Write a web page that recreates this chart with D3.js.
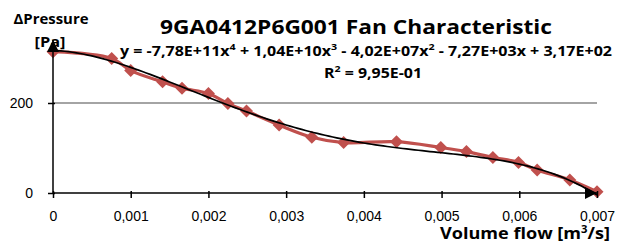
<!DOCTYPE html>
<html lang="en">
<head>
<meta charset="UTF-8">
<title>9GA0412P6G001 Fan Characteristic</title>
<script src="https://cdnjs.cloudflare.com/ajax/libs/d3/7.8.5/d3.min.js"></script>
<style>
    body { margin: 0; background: #fff; }
    svg { display: block; font-family: Lato, 'Open Sans', sans-serif; }
    .tick text { font-size: 14px; fill: #000; }
    .bold { font-family: 'Open Sans', sans-serif; font-weight: bold; }
</style>
</head>
<body>
<div id="chart"></div>
<script>
// measured points (volume flow m3/s, delta pressure Pa)
const flow = [0, 0.000755, 0.001, 0.00141, 0.00166, 0.002, 0.00225, 0.00249, 0.00291, 0.00333,
              0.00374, 0.00442, 0.00499, 0.00532, 0.00566, 0.00599, 0.00623, 0.00665, 0.007];
const pressure = [314, 299, 272, 247, 233, 221, 199, 182, 151, 124,
                  112, 114, 101, 92, 79, 68, 51, 29, 3];
// polynomial trend line coefficients, c0 + c1*x + ... + c4*x^4
const trendCoef = [317, -7270, -4.02e7, 1.04e10, -7.78e11];
const xTicks = [0, 0.001, 0.002, 0.003, 0.004, 0.005, 0.006, 0.007];
const xTickLabels = ["0", "0,001", "0,002", "0,003", "0,004", "0,005", "0,006", "0,007"];
const yTicks = [0, 200];

const W = 624, H = 246;
const svg = d3.select("#chart").append("svg").attr("width", W).attr("height", H);

const x = d3.scaleLinear().domain([0, 0.007]).range([53, 597]);
const y = d3.scaleLinear().domain([0, 320]).range([193, 49]);

const defs = svg.append("defs");
defs.append("marker")
    .attr("id", "arrow")
    .attr("viewBox", "0 0 10 10")
    .attr("refX", 10).attr("refY", 5)
    .attr("markerWidth", 17).attr("markerHeight", 12)
    .attr("markerUnits", "userSpaceOnUse")
    .attr("orient", "auto")
    .append("path").attr("d", "M0,0L10,5L0,10Z").attr("fill", "#000");

// gridline at 200
svg.append("g").selectAll("line")
    .data(yTicks.filter(d => d > 0))
    .join("line")
    .attr("x1", x(0)).attr("x2", x(0.007))
    .attr("y1", d => y(d)).attr("y2", d => y(d))
    .attr("stroke", "#868686").attr("stroke-width", 1.3);

// measured series
const red = "#C0504D";
const pts = flow.map((f, i) => [f, pressure[i]]);
svg.append("path")
    .datum(pts)
    .attr("fill", "none").attr("stroke", red).attr("stroke-width", 3.2)
    .attr("stroke-linejoin", "round")
    .attr("d", d3.line().x(d => x(d[0])).y(d => y(d[1])).curve(d3.curveCatmullRom.alpha(0.5)));
svg.append("g").selectAll("path")
    .data(pts)
    .join("path")
    .attr("transform", d => `translate(${x(d[0])},${y(d[1])})`)
    .attr("d", "M0,-6.5L6.5,0L0,6.5L-6.5,0Z")
    .attr("fill", red);

// trend line
const poly = v => trendCoef.reduce((s, c, k) => s + c * Math.pow(v, k), 0);
const tx = x.ticks(140);
svg.append("path")
    .datum(tx.map(v => [v, poly(v)]))
    .attr("fill", "none").attr("stroke", "#000").attr("stroke-width", 1.7)
    .attr("d", d3.line().x(d => x(d[0])).y(d => y(d[1])));

// y axis
const yAxis = svg.append("g")
    .attr("transform", `translate(${x(0)},0)`)
    .call(d3.axisLeft(y).tickValues(yTicks).tickSize(5).tickPadding(15).tickFormat(d3.format("d")));
yAxis.select(".domain").remove();
yAxis.selectAll(".tick line").attr("stroke-width", 1.5).attr("x2", -5).attr("x1", 2);
svg.append("line")
    .attr("x1", x(0)).attr("x2", x(0))
    .attr("y1", y(0)).attr("y2", y(340))
    .attr("stroke", "#000").attr("stroke-width", 1.5)
    .attr("marker-end", "url(#arrow)");

// x axis
const xAxis = svg.append("g")
    .attr("transform", `translate(0,${y(0)})`)
    .call(d3.axisBottom(x).tickValues(xTicks).tickSize(5).tickPadding(13)
        .tickFormat((d, i) => xTickLabels[i]));
xAxis.select(".domain").remove();
xAxis.selectAll(".tick line").attr("stroke-width", 1.5).attr("y1", -2);
svg.append("line")
    .attr("x1", x(0)).attr("x2", x(0.007))
    .attr("y1", y(0)).attr("y2", y(0))
    .attr("stroke", "#000").attr("stroke-width", 1.5)
    .attr("marker-end", "url(#arrow)");

// texts
svg.append("text").attr("class", "bold")
    .attr("x", 356).attr("y", 34)
    .attr("text-anchor", "middle")
    .attr("font-size", 20)
    .attr("textLength", 392).attr("lengthAdjust", "spacingAndGlyphs")
    .text("9GA0412P6G001 Fan Characteristic");

svg.append("text").attr("class", "bold")
    .attr("x", 51).attr("y", 24)
    .attr("text-anchor", "middle")
    .attr("font-size", 14)
    .attr("textLength", 75).attr("lengthAdjust", "spacingAndGlyphs")
    .text("ΔPressure");
svg.append("text").attr("class", "bold")
    .attr("x", 50).attr("y", 47)
    .attr("text-anchor", "middle")
    .attr("font-size", 14)
    .attr("textLength", 31).attr("lengthAdjust", "spacingAndGlyphs")
    .text("[Pa]");

// text with superscripts: list of [normal, sup] pairs
function richText(sel, parts, supSize) {
    let raised = false;
    parts.forEach(([t, s]) => {
        const n = sel.append("tspan").text(t);
        if (raised) { n.attr("dy", 6); raised = false; }
        if (s) { sel.append("tspan").attr("font-size", supSize || 9).attr("dy", -6).text(s); raised = true; }
    });
}

const eq = svg.append("text").attr("class", "bold")
    .attr("x", 120).attr("y", 56)
    .attr("font-size", 13.5)
    .attr("textLength", 492).attr("lengthAdjust", "spacingAndGlyphs");
richText(eq, [["y = -7,78E+11x", "4"], [" + 1,04E+10x", "3"], [" - 4,02E+07x", "2"], [" - 7,27E+03x + 3,17E+02", null]]);

const r2 = svg.append("text").attr("class", "bold")
    .attr("x", 324).attr("y", 78)
    .attr("font-size", 13.5)
    .attr("textLength", 98).attr("lengthAdjust", "spacingAndGlyphs");
richText(r2, [["R", "2"], [" = 9,95E-01", null]]);

const xt = svg.append("text").attr("class", "bold")
    .attr("x", 610).attr("y", 239)
    .attr("font-size", 16)
    .attr("text-anchor", "end")
    .attr("textLength", 170).attr("lengthAdjust", "spacingAndGlyphs");
richText(xt, [["Volume flow [m", "3"], ["/s]", null]], 10);
</script>
</body>
</html>
